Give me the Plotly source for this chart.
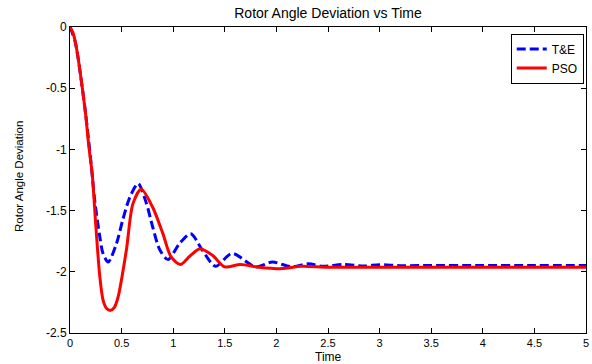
import plotly.graph_objects as go

# ---- data ----
te_time = [0, 0.05, 0.1, 0.15, 0.2, 0.24, 0.29, 0.32, 0.37, 0.45, 0.51, 0.58, 0.66,
           0.74, 0.80, 0.87, 0.95, 1.06, 1.17, 1.28, 1.41, 1.57, 1.80, 1.96, 2.15,
           2.31, 2.45, 2.65, 2.85, 3.0, 3.2, 3.5, 4.0, 4.5, 5.0]
te_value = [0, -0.12, -0.38, -0.70, -1.08, -1.42, -1.72, -1.85, -1.92, -1.77, -1.58,
            -1.39, -1.28, -1.44, -1.63, -1.82, -1.90, -1.77, -1.69, -1.82, -1.955,
            -1.85, -1.96, -1.92, -1.96, -1.935, -1.955, -1.94, -1.953, -1.942,
            -1.95, -1.948, -1.948, -1.948, -1.948]

pso_time = [0, 0.03, 0.055, 0.087, 0.118, 0.151, 0.183, 0.215, 0.25, 0.289, 0.321,
            0.355, 0.392, 0.43, 0.466, 0.546, 0.61, 0.69, 0.80, 0.90, 0.98, 1.07,
            1.16, 1.26, 1.38, 1.50, 1.65, 1.83, 2.05, 2.24, 2.5, 3.0, 4.0, 5.0]
pso_value = [0, -0.05, -0.137, -0.30, -0.49, -0.71, -0.98, -1.20, -1.62, -2.04,
             -2.233, -2.30, -2.315, -2.29, -2.206, -1.824, -1.443, -1.325, -1.471,
             -1.688, -1.879, -1.94, -1.873, -1.811, -1.865, -1.96, -1.94, -1.962,
             -1.974, -1.955, -1.963, -1.963, -1.963, -1.963]

x_tick_vals = [0, 0.5, 1, 1.5, 2, 2.5, 3, 3.5, 4, 4.5, 5]
x_tick_text = ["0", "0.5", "1", "1.5", "2", "2.5", "3", "3.5", "4", "4.5", "5"]
y_tick_vals = [0, -0.5, -1, -1.5, -2, -2.5]
y_tick_text = ["0", "-0.5", "-1", "-1.5", "-2", "-2.5"]

title_text = "Rotor Angle Deviation vs Time"
x_label = "Time"
y_label = "Rotor Angle Deviation"

FONT = "Liberation Sans, Arial, sans-serif"

fig = go.Figure()
fig.add_trace(go.Scatter(
    x=te_time, y=te_value, name="T&E", mode="lines",
    line=dict(color="#0000FF", width=3, dash="9px,4px", shape="spline", smoothing=0.8),
))
fig.add_trace(go.Scatter(
    x=pso_time, y=pso_value, name="PSO", mode="lines",
    line=dict(color="#FF0000", width=3, shape="spline", smoothing=0.8),
))

axis_common = dict(
    showgrid=False, zeroline=False, showline=True, linecolor="black", linewidth=1,
    mirror="ticks", ticks="inside", ticklen=5, tickcolor="black", tickwidth=1,
    tickmode="array", ticklabeloverflow="allow",
)

fig.update_layout(
    width=592, height=364,
    margin=dict(l=70, r=3, t=26.5, b=31),
    paper_bgcolor="white", plot_bgcolor="white",
    title=dict(text=title_text, x=0.5, xref="paper", y=1 - 13 / 364, yref="container",
               xanchor="center", yanchor="middle",
               font=dict(family=FONT, size=14, color="black")),
    xaxis=dict(range=[0, 5], tickvals=x_tick_vals, ticktext=x_tick_text,
               tickfont=dict(family=FONT, size=11, color="black"), **axis_common),
    yaxis=dict(range=[-2.5, 0], tickvals=y_tick_vals, ticktext=y_tick_text,
               tickfont=dict(family=FONT, size=12, color="black"), **axis_common),
    legend=dict(x=0.9956, y=0.9785, xanchor="right", yanchor="top",
                bgcolor="white", bordercolor="black", borderwidth=1,
                font=dict(family=FONT, size=12, color="black"),
                tracegroupgap=0),
    showlegend=True,
    annotations=[
        dict(text=x_label, x=0.5, xref="paper", y=(333 - 357) / 306.5, yref="paper",
             xanchor="center", yanchor="middle", showarrow=False,
             font=dict(family=FONT, size=12, color="black")),
        dict(text=y_label, x=-0.0988, xref="paper", y=0.51, yref="paper",
             xanchor="center", yanchor="middle", showarrow=False, textangle=-90,
             font=dict(family=FONT, size=11.5, color="black")),
    ],
)

fig.write_html(
    "out.html",
    config={"displayModeBar": False},
    post_script="document.body.style.margin='0';document.body.style.overflow='hidden';",
)
